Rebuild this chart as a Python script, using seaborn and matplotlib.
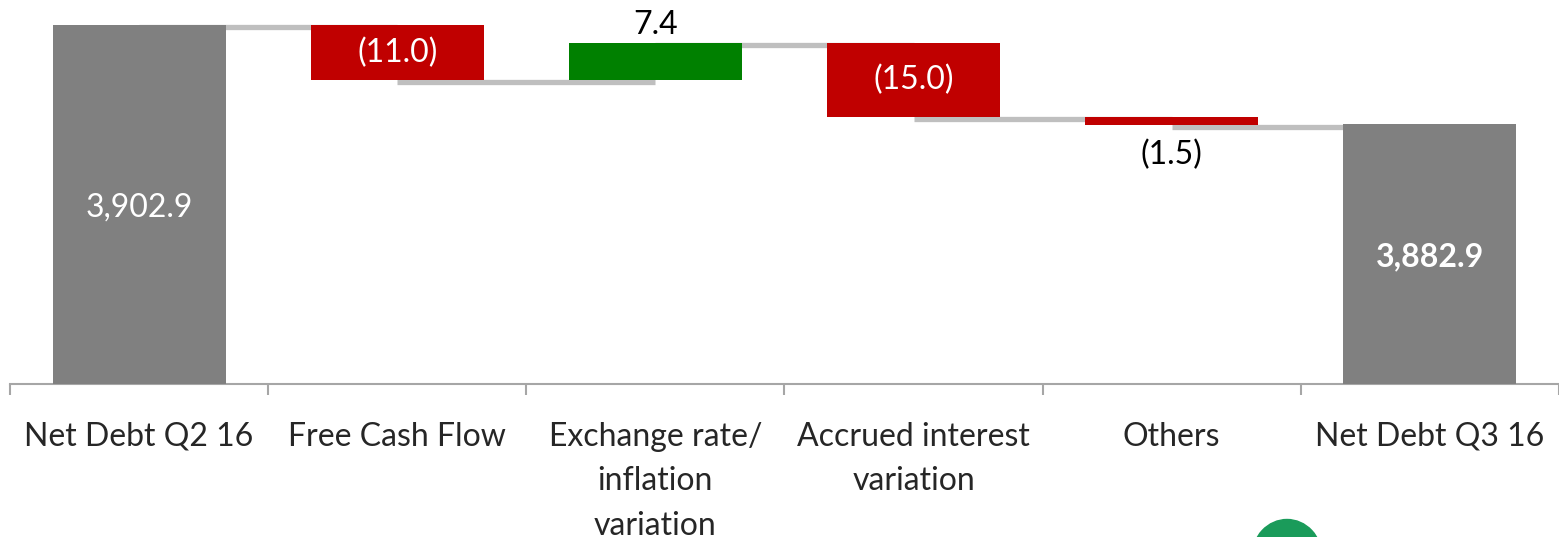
import matplotlib
matplotlib.use('Agg')
import matplotlib.pyplot as plt
import seaborn as sns
import pandas as pd
from matplotlib.patches import Ellipse

# data
categories = ['Net Debt Q2 16', 'Free Cash Flow', 'Exchange rate/\ninflation\nvariation',
              'Accrued interest\nvariation', 'Others', 'Net Debt Q3 16']
changes = [3902.9, -11.0, 7.4, -15.0, -1.5, 3882.9]
labels = ['3,902.9', '(11.0)', '7.4', '(15.0)', '(1.5)', '3,882.9']
is_total = [True, False, False, False, False, True]

# build the waterfall
bottoms, heights, levels = [], [], []
level = 0
for val, tot in zip(changes, is_total):
    if tot:
        bottoms.append(0)
        heights.append(val)
        level = val
    else:
        new = level + val
        bottoms.append(min(level, new))
        heights.append(abs(val))
        level = new
    levels.append(level)

df = pd.DataFrame({'category': categories, 'height': heights, 'bottom': bottoms})

colors = []
for val, tot in zip(changes, is_total):
    if tot:
        colors.append('#808080')
    elif val < 0:
        colors.append('#C00000')
    else:
        colors.append('#008000')

sns.set_style('white')
plt.rcParams['font.family'] = ['Lato', 'DejaVu Sans']

fig = plt.figure(figsize=(15.59, 5.37), dpi=100)
ax = fig.add_axes([10 / 1559, 1 - 384 / 537, 1549 / 1559, 384 / 537])

sns.barplot(data=df, x='category', y='height', bottom=df['bottom'], color='#808080',
            width=0.67, ax=ax, linewidth=0)
for p, c in zip(ax.patches, colors):
    p.set_facecolor(c)
    p.set_zorder(3)

# connector lines (behind the bars)
for i in range(len(categories) - 1):
    ax.plot([i, i + 1], [levels[i] - 0.4, levels[i] - 0.4], color='#BFBFBF', lw=3.8,
            zorder=1, solid_capstyle='butt')

ymin, ymax = 3830.4, 3908.0
ax.set_ylim(ymin, ymax)
ax.set_xlim(-0.5, len(categories) - 0.5)

# value labels
for i, (val, tot) in enumerate(zip(changes, is_total)):
    top = bottoms[i] + heights[i]
    if tot:
        ax.text(i, (max(bottoms[i], ymin) + top) / 2 - 0.6, labels[i], ha='center', va='center',
                color='white', fontsize=23, fontweight='bold' if i == len(categories) - 1 else 'normal',
                zorder=5)
    elif abs(val) >= 5 and val < 0:
        ax.text(i, bottoms[i] + heights[i] / 2, labels[i], ha='center', va='center',
                color='white', fontsize=23, zorder=5)
    elif val > 0:
        ax.text(i, top + 0.6, labels[i], ha='center', va='bottom', color='black',
                fontsize=23, zorder=5)
    else:
        ax.text(i, bottoms[i] - 3.0, labels[i], ha='center', va='top', color='black',
                fontsize=23, zorder=5)

# axes styling
for s in ['top', 'right', 'left']:
    ax.spines[s].set_visible(False)
ax.spines['bottom'].set_color('#A6A6A6')
ax.spines['bottom'].set_linewidth(1.5)
ax.set_yticks([])
ax.set_xlabel('')
ax.set_ylabel('')
ax.set_xticks(range(len(categories)))
ax.set_xticklabels(categories, fontsize=23, linespacing=1.62)
ax.tick_params(axis='x', which='major', bottom=True, length=0, pad=27)
ax.set_xticks([i - 0.5 for i in range(len(categories) + 1)], minor=True)
ax.tick_params(axis='x', which='minor', bottom=True, length=8, width=1.5,
               color='#A6A6A6', direction='out')
for t in ax.get_xticklabels():
    t.set_verticalalignment('top')

# partial logo in the corner
fig.patches.append(Ellipse((1287 / 1559, -20 / 537), 70 / 1559, 75 / 537,
                           transform=fig.transFigure, color='#1A9B5A', figure=fig))

fig.savefig('out.png', dpi=100)
